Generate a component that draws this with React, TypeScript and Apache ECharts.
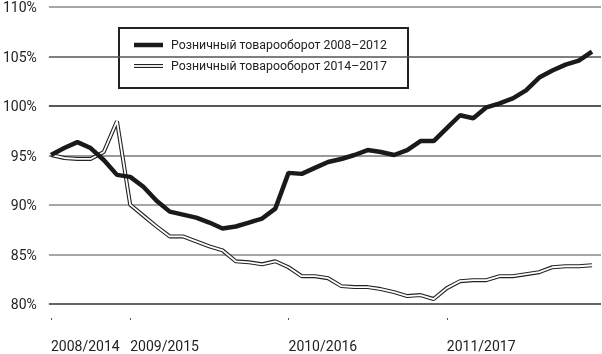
import React, { useEffect, useRef } from "react";
import * as echarts from "echarts";

const months = [
  "2008-07", "2008-08", "2008-09", "2008-10", "2008-11", "2008-12",
  "2009-01", "2009-02", "2009-03", "2009-04", "2009-05", "2009-06",
  "2009-07", "2009-08", "2009-09", "2009-10", "2009-11", "2009-12",
  "2010-01", "2010-02", "2010-03", "2010-04", "2010-05", "2010-06",
  "2010-07", "2010-08", "2010-09", "2010-10", "2010-11", "2010-12",
  "2011-01", "2011-02", "2011-03", "2011-04", "2011-05", "2011-06",
  "2011-07", "2011-08", "2011-09", "2011-10", "2011-11", "2011-12",
];

const tickMonths = ["2008-07", "2009-01", "2010-01", "2011-01"];
const tickLabels = ["2008/2014", "2009/2015", "2010/2016", "2011/2017"];

const seriesNames = [
  "Розничный товарооборот 2008–2012",
  "Розничный товарооборот 2014–2017",
];

const retail2008 = [
  95.0, 95.7, 96.3, 95.7, 94.5, 93.0, 92.8, 91.8, 90.4, 89.3, 89.0, 88.7,
  88.2, 87.6, 87.8, 88.2, 88.6, 89.6, 93.2, 93.1, 93.7, 94.3, 94.6, 95.0,
  95.5, 95.3, 95.0, 95.5, 96.4, 96.4, 97.7, 99.0, 98.7, 99.8, 100.2, 100.7,
  101.5, 102.8, 103.5, 104.1, 104.5, 105.4,
];

const retail2014 = [
  95.0, 94.7, 94.6, 94.6, 95.3, 98.4, 90.0, 88.9, 87.8, 86.8, 86.8, 86.3,
  85.8, 85.4, 84.3, 84.2, 84.0, 84.3, 83.7, 82.8, 82.8, 82.6, 81.8, 81.7,
  81.7, 81.5, 81.2, 80.8, 80.9, 80.5, 81.6, 82.3, 82.4, 82.4, 82.8, 82.8,
  83.0, 83.2, 83.7, 83.8, 83.8, 83.9,
];

const FONT = "Roboto";

export default function App() {
  const ref = useRef<HTMLDivElement>(null);
  useEffect(() => {
    if (!ref.current) return;
    const chart = echarts.init(ref.current, null, { renderer: "svg" });
    const isTick = (_i: number, v: string) => tickMonths.indexOf(v) >= 0;
    chart.setOption({
      animation: false,
      grid: [
        { left: 44, right: 1, top: 6, bottom: 50, containLabel: false },
        { left: 51, right: 10, top: 6, bottom: 50, containLabel: false },
      ],
      xAxis: [
        {
          gridIndex: 0,
          type: "category",
          data: months,
          boundaryGap: false,
          show: false,
        },
        {
          gridIndex: 1,
          type: "category",
          data: months,
          boundaryGap: false,
          offset: 14,
          axisLine: { show: false },
          axisTick: {
            show: true,
            interval: isTick,
            length: 2,
            lineStyle: { color: "#555", width: 1 },
          },
          axisLabel: {
            interval: isTick,
            align: "left",
            margin: 21,
            fontFamily: FONT,
            fontSize: 14,
            color: "#222",
            formatter: (v: string) => {
              const k = tickMonths.indexOf(v);
              return k >= 0 ? tickLabels[k] : "";
            },
          },
          splitLine: { show: false },
        },
      ],
      yAxis: [
        {
          gridIndex: 0,
          type: "value",
          min: 80,
          max: 110,
          interval: 5,
          axisLine: { show: false },
          axisTick: { show: false },
          axisLabel: {
            formatter: "{value}%",
            margin: 12,
            fontFamily: FONT,
            fontSize: 14,
            color: "#222",
          },
          splitLine: {
            lineStyle: {
              color: ["#333", "#888", "#888", "#777", "#222", "#555", "#888"],
              width: 1.5,
            },
          },
        },
        {
          gridIndex: 1,
          type: "value",
          min: 80,
          max: 110,
          interval: 5,
          show: false,
          splitLine: { show: false },
        },
      ],
      series: [
        {
          name: seriesNames[1] + " outer",
          type: "line",
          xAxisIndex: 1,
          yAxisIndex: 1,
          data: retail2014,
          symbol: "none",
          lineStyle: { color: "#222", width: 4 },
          z: 2,
        },
        {
          name: seriesNames[1],
          type: "line",
          xAxisIndex: 1,
          yAxisIndex: 1,
          data: retail2014,
          symbol: "none",
          lineStyle: { color: "#fff", width: 1.8 },
          z: 3,
        },
        {
          name: seriesNames[0],
          type: "line",
          xAxisIndex: 1,
          yAxisIndex: 1,
          data: retail2008,
          symbol: "none",
          lineStyle: { color: "#1a1a1a", width: 4.5 },
          z: 4,
        },
      ],
      graphic: [
        {
          type: "group",
          left: 118,
          top: 27,
          z: 100,
          children: [
            {
              type: "rect",
              shape: { x: 0, y: 0, width: 289, height: 60 },
              style: { fill: "#fff", stroke: "#222", lineWidth: 2 },
            },
            {
              type: "line",
              shape: { x1: 15, y1: 17, x2: 44, y2: 17 },
              style: { stroke: "#1a1a1a", lineWidth: 4.5 },
            },
            {
              type: "line",
              shape: { x1: 15, y1: 38, x2: 44, y2: 38 },
              style: { stroke: "#222", lineWidth: 4 },
            },
            {
              type: "line",
              shape: { x1: 15, y1: 38, x2: 44, y2: 38 },
              style: { stroke: "#fff", lineWidth: 1.8 },
            },
            {
              type: "text",
              x: 52,
              y: 17,
              style: {
                text: seriesNames[0],
                fontFamily: FONT,
                fontSize: 12.3,
                fill: "#222",
                verticalAlign: "middle",
              },
            },
            {
              type: "text",
              x: 52,
              y: 38,
              style: {
                text: seriesNames[1],
                fontFamily: FONT,
                fontSize: 12.3,
                fill: "#222",
                verticalAlign: "middle",
              },
            },
          ],
        },
      ],
    });
    return () => chart.dispose();
  }, []);
  return <div ref={ref} style={{ width: 602, height: 354, position: "fixed", left: 0, top: 0 }} />;
}
